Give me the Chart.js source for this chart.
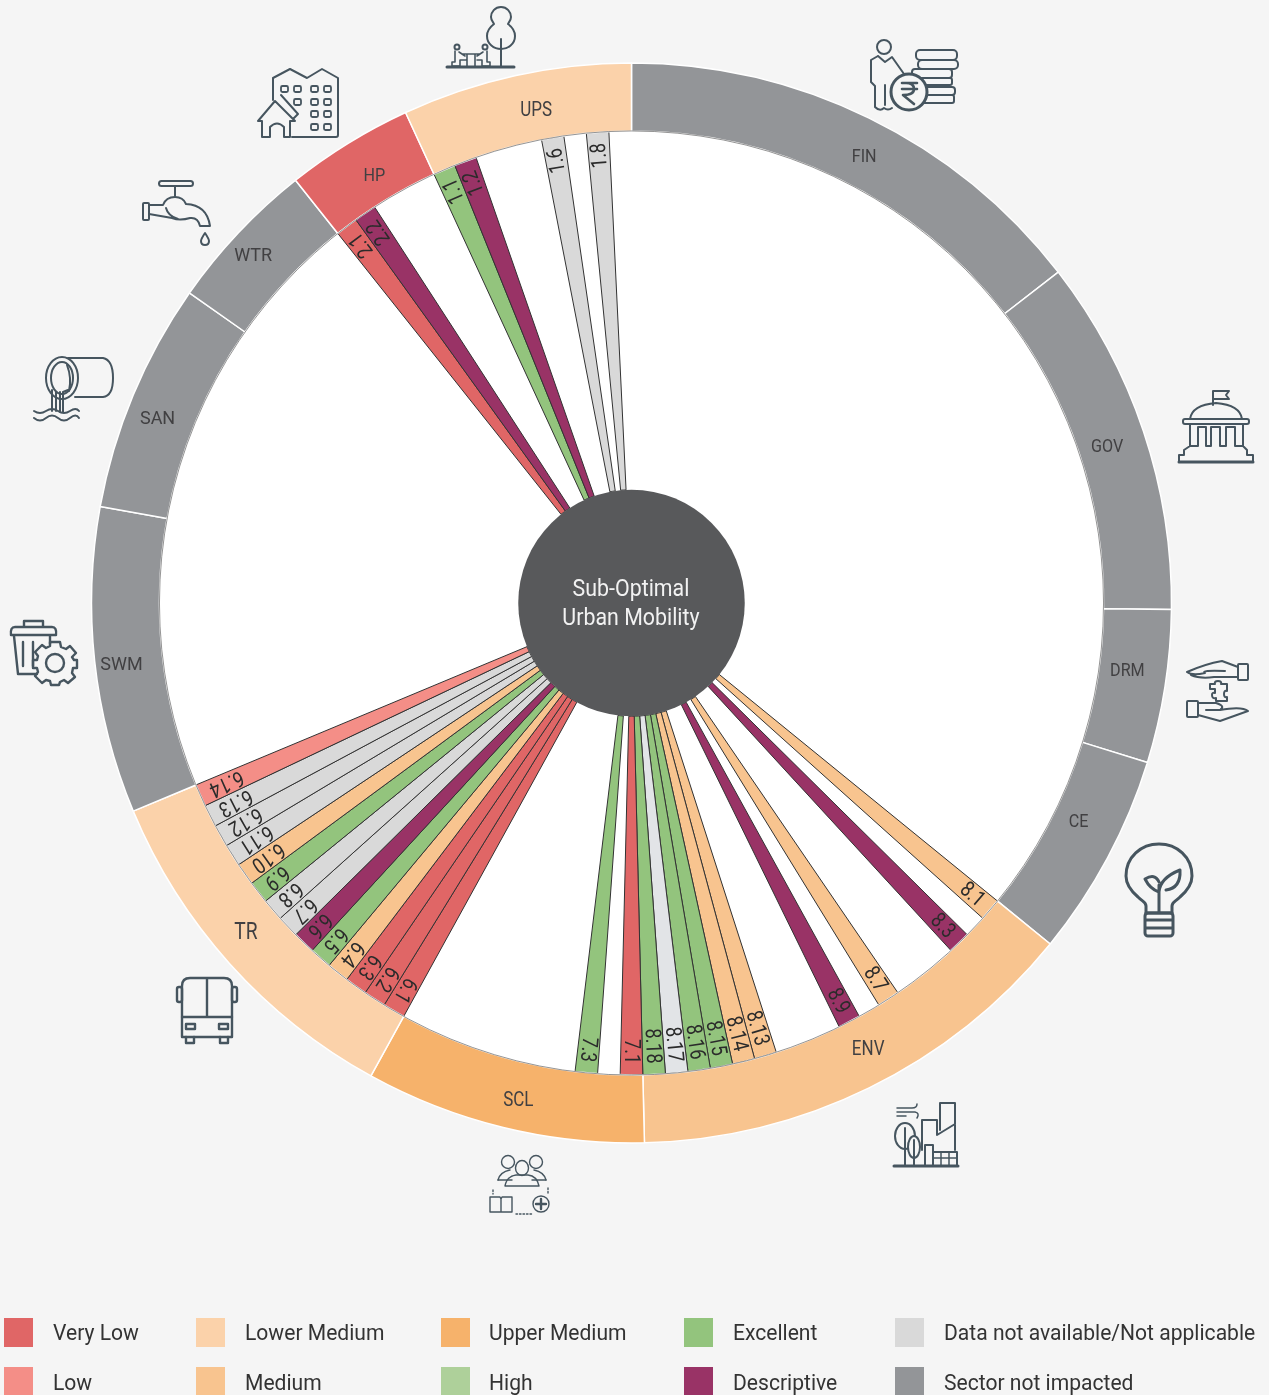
<!DOCTYPE html>
<html><head><meta charset="utf-8">
<style>
html,body{margin:0;padding:0;background:#f5f5f5;width:1269px;height:1395px;overflow:hidden;font-family:Roboto,sans-serif}
#wrap{position:relative;width:1269px;height:1395px}
canvas{position:absolute;left:0;top:0}
svg#icons{position:absolute;left:0;top:0;pointer-events:none}
.sw{position:absolute;width:29px;height:29px}
.lg{position:absolute;font:22px Roboto,sans-serif;color:#333;white-space:nowrap;line-height:28px;transform-origin:left center;transform:scaleX(.958)}
</style>
<script src="https://cdn.jsdelivr.net/npm/chart.js@4/dist/chart.umd.min.js"></script>
</head><body><div id="wrap"><canvas id="c" width="1269" height="1395"></canvas>
<svg id="icons" width="1269" height="1395" viewBox="0 0 1269 1395" fill="none" stroke="#46555f" stroke-width="2" stroke-linejoin="round" stroke-linecap="round">
<!-- UPS -->
<g><path d="M501 7C495 7 491 12 491 17C491 21 494 23 494 24C490 27 487 31 487 36C487 44 494 49 501 49C508 49 515 44 515 36C515 31 512 27 508 24C508 23 511 21 511 17C511 12 507 7 501 7Z"/><path d="M501 39V66"/><path d="M447 67H514" stroke-width="3"/><circle cx="457" cy="47" r="2.5"/><circle cx="485" cy="47" r="2.5"/><path d="M455 51V62H452V66H460V60L466 60M459 52L465 56M487 51V62H490V66H482V60L477 60M483 52L477 56M462 54H480M467 54V66M475 54V66" stroke-width="1.6"/></g>
<!-- FIN -->
<g><circle cx="884" cy="47" r="7"/><path d="M878 56L871 60V82L875 86V107Q880 112 884 108Q888 111 892 108M878 56L885 62L892 57L904 74M885 85V105"/><rect x="916" y="50" width="41" height="10" rx="4"/><rect x="918" y="60" width="40" height="9" rx="4"/><rect x="912" y="69" width="40" height="9" rx="3"/><rect x="918" y="78" width="34" height="7" rx="2"/><rect x="918" y="87" width="37" height="8" rx="3"/><rect x="918" y="95" width="36" height="8" rx="2"/><circle cx="909" cy="92" r="18" fill="#f5f5f5" stroke-width="3"/><path d="M902 83H917M902 89H917M906 83Q914 83 914 89Q914 95 903 95L914 104" stroke-width="2.6"/></g>
<!-- GOV -->
<g><path d="M1213 405V391H1229L1226 395L1229 399H1213"/><path d="M1190 419Q1192 405 1216 403Q1240 405 1242 419"/><rect x="1183" y="419" width="66" height="5" rx="2"/><path d="M1190 425V446L1184 450V455H1179V462H1253V455H1247V450L1243 446V425M1190 446H1198V427H1206V446H1211V427H1220V446H1226V427H1235V446H1243"/><path d="M1179 462H1253" stroke-width="3"/></g>
<!-- DRM -->
<g><rect x="1238" y="664" width="10" height="16" rx="1"/><path d="M1238 667L1222 661Q1205 664 1187 672Q1192 676 1205 673Q1200 670 1225 671M1238 677H1214Q1200 679 1191 675"/><rect x="1187" y="701" width="11" height="16" rx="1"/><path d="M1198 703H1216Q1226 706 1220 710H1206M1198 715L1220 721L1248 711Q1242 706 1220 710"/><path d="M1210 684H1215Q1214 681 1218 681Q1222 681 1221 684H1227V691Q1224 690 1224 694Q1224 698 1227 697V701H1216V698Q1212 699 1212 695Q1212 692 1215 693V689H1210Z" stroke-width="2"/></g>
<!-- CE -->
<g stroke-width="3"><path d="M1146 913V906C1146 902 1143 902 1138 897C1131 891 1126 884 1126 876C1126 857 1141 844 1159 844C1177 844 1192 857 1192 876C1192 884 1187 891 1180 897C1175 902 1172 902 1172 906V913"/><rect x="1145" y="913" width="28" height="23" rx="3"/><path d="M1146 920H1172M1146 928H1172M1146 913H1172"/><path d="M1159 912V885M1159 892Q1150 889 1145 879Q1155 873 1159 882M1159 892Q1160 878 1180 870Q1181 888 1166 890"/></g>
<!-- ENV -->
<g><path d="M894 1166H958" stroke-width="3"/><path d="M940 1130V1103H955V1150M922 1150V1120H937V1135M937 1135L955 1124M925 1166V1145H933V1152"/><ellipse cx="905" cy="1136" rx="10" ry="13"/><ellipse cx="914" cy="1147" rx="6" ry="11" fill="#f5f5f5"/><path d="M905 1166V1128M914 1166V1140"/><rect x="933" y="1152" width="24" height="14" /><path d="M933 1158H957M941 1152V1166M949 1152V1166M897 1108H912Q917 1108 917 1104M897 1112H915Q920 1113 917 1118M897 1116H906" stroke-width="1.5"/></g>
<!-- SCL -->
<g stroke-width="1.4"><circle cx="508" cy="1162" r="6.5"/><circle cx="536" cy="1162" r="6.5"/><ellipse cx="522" cy="1168" rx="6.5" ry="7.5"/><path d="M498 1180Q500 1172 510 1170M546 1180Q544 1172 534 1170M505 1186Q507 1176 516 1175H528Q537 1176 539 1186H505Z"/><path d="M498 1180H512M532 1180H546"/><path d="M490 1197H500L501 1199L502 1197H512V1212H490ZM501 1199V1212"/><circle cx="541" cy="1204" r="8"/><path d="M541 1199V1209M536 1204H546" stroke-width="2.4"/><path d="M493 1190V1194M548 1188V1195M516 1214H532" stroke-dasharray="1.5 2"/></g>
<!-- TR -->
<g stroke-width="2.4"><path d="M182 1037V986Q182 978 190 978H224Q232 978 232 986V1037Z"/><path d="M207 979V1017M182 1017H232"/><rect x="177" y="987" width="5" height="15" rx="2"/><rect x="232" y="987" width="5" height="15" rx="2"/><rect x="186" y="1024" width="9" height="5" /><rect x="219" y="1024" width="9" height="5"/><path d="M186 1037V1043H194V1037M220 1037V1043H228V1037"/></g>
<!-- SWM -->
<g stroke-width="2.4"><path d="M24 626V621H43V626"/><path d="M11 635Q10 627 15 627H52Q57 627 56 635Z"/><path d="M14 636L18 674H37M50 636V644"/><path d="M23 642V666M33 642V666"/><path d="M50 642H60L61 647L66 649L70 646L76 653L72 657L74 660H77V668L73 668L72 673L75 677L68 683L64 680L60 682L59 685H51L50 681L46 680L42 683L35 676L38 672L37 668H33V660H37L38 656L35 652L42 645L46 648L50 646Z"/><circle cx="55" cy="663" r="9"/></g>
<!-- SAN -->
<g stroke-width="2"><ellipse cx="62" cy="378" rx="16" ry="21"/><ellipse cx="62" cy="378" rx="11" ry="16"/><path d="M68 358H103Q113 360 113 378Q113 396 103 397H75M67 365Q72 378 69 391M52 390V411M56 392V411M60 392V412M68 390L63 392V412"/><path d="M34 411Q40 415 46 411T58 411T70 411T79 411M34 418Q40 423 46 418T58 418T70 418T79 418"/></g>
<!-- WTR -->
<g stroke-width="2"><rect x="159" y="181" width="34" height="5" rx="2.5"/><path d="M175 186V196"/><rect x="143" y="203" width="6" height="17" rx="1"/><path d="M149 205H163Q166 197 175 197Q183 197 186 204Q207 205 210 226H200Q198 217 190 218Q180 221 172 218L149 214M166 208Q168 216 178 219" /><path d="M205 233Q201 239 201 241Q201 245 205 245Q209 245 209 241Q209 239 205 233Z"/></g>
<!-- HP -->
<g><path d="M273 100V78L290 69L307 78L322 69L338 78V135Q338 137 336 137H292"/><path d="M275 101L258 121H262V137H270V127Q277 120 284 127V137H290V121H295L275 101ZM281 95L298 114L294 118"/><g stroke-width="1.8"><rect x="281" y="86" width="7" height="6" rx="1.5"/><rect x="294" y="86" width="7" height="6" rx="1.5"/><rect x="311" y="86" width="7" height="6" rx="1.5"/><rect x="324" y="86" width="7" height="6" rx="1.5"/><rect x="294" y="99" width="7" height="6" rx="1.5"/><rect x="311" y="99" width="7" height="6" rx="1.5"/><rect x="324" y="99" width="7" height="6" rx="1.5"/><rect x="311" y="111" width="7" height="6" rx="1.5"/><rect x="324" y="111" width="7" height="6" rx="1.5"/><rect x="311" y="124" width="7" height="6" rx="1.5"/><rect x="324" y="124" width="7" height="6" rx="1.5"/></g></g>
</svg>
</div>
<script>
// ---------- data ----------
const sectorNames   = ['FIN','GOV','DRM','CE','ENV','SCL','TR','SWM','SAN','WTR','HP','UPS'];
const sectorSizes   = [19,14,6,8,18,11,14,12,9,6,5,9];
const sectorRatings = ['NI','NI','NI','NI','M','UM','LM','NI','NI','NI','VL','LM'];
const sectorNumbers = [3,4,5,10,8,7,6,11,12,13,2,1];
// ratings per indicator, clockwise; '' = not rated (white)
const finRatings = ['','','','','','','','','','','','','','','','','','',''];
const govRatings = ['','','','','','','','','','','','','',''];
const drmRatings = ['','','','','',''];
const ceRatings  = ['','','','','','','',''];
const envRatings = ['M','','D','','','','M','','D','','','','M','M','E','E','NB','E'];
const sclRatings = ['VL','','E','','','','','','','',''];
const trRatings  = ['VL','VL','VL','M','E','D','NA','NA','E','M','NA','NA','NA','L'];
const swmRatings = ['','','','','','','','','','','',''];
const sanRatings = ['','','','','','','','',''];
const wtrRatings = ['','','','','',''];
const hpRatings  = ['VL','D','','',''];
const upsRatings = ['E','D','','','','NA','','NA',''];
const legendLabels = ['Very Low','Low','Lower Medium','Medium','Upper Medium','High','Excellent','Descriptive','Data not available/Not applicable','Sector not impacted'];
const legendKeys   = ['VL','L','LM','M','UM','H','E','D','NA','NI'];

// ---------- styles ----------
const ratingColors = {VL:'#e06666',L:'#f48e87',LM:'#fbd2aa',M:'#f8c48f',UM:'#f6b26b',H:'#aed09a',E:'#93c47d',D:'#993366',NA:'#d9d9d9',NB:'#e2e4e7',NI:'#939598','':'rgba(255,255,255,0)'};
// per-sector label tweak: [font px, x-squeeze, dx, dy]
const sectorLabelStyle = {FIN:[19,.85,10,9],GOV:[19,.85,-4,5],DRM:[19,.85,-4,-10],CE:[19,.85,1,-20],ENV:[20,.85,14,-7],SCL:[20,.85,7,6],TR:[24,.8,-9,-8],SWM:[18,1,-7,8],SAN:[18,1,-7,12],WTR:[18,1,-10,0],HP:[19,.85,8,4],UPS:[20,.85,13,2]};
const legendX = [[4,53],[196,245],[441,489],[684,733],[895,944]];
const legendY = [1318,1367];

// ---------- chart data ----------
const perSector = [finRatings,govRatings,drmRatings,ceRatings,envRatings,sclRatings,trRatings,swmRatings,sanRatings,wtrRatings,hpRatings,upsRatings];
const flatRatings = perSector.flat();
const flatLabels = perSector.flatMap((arr,i)=>arr.map((r,j)=>r?sectorNumbers[i]+'.'+(j+1):''));

const ringPlugin = {
  id:'ring',
  beforeDatasetsDraw(ch){
    const a = ch.getDatasetMeta(1).data[0], c = ch.ctx;
    c.save();c.fillStyle='#ffffff';c.beginPath();c.arc(a.x,a.y,a.outerRadius,0,Math.PI*2);c.fill();c.restore();
  },
  afterDatasetsDraw(ch){
    const c = ch.ctx, outer = ch.getDatasetMeta(0).data, inner = ch.getDatasetMeta(1).data;
    const a0 = inner[0];
    // thin seam between the two rings
    c.save();c.strokeStyle='rgba(60,60,60,.55)';c.lineWidth=1;c.beginPath();c.arc(a0.x,a0.y,a0.outerRadius,0,Math.PI*2);c.stroke();
    // indicator labels
    c.fillStyle='#2b2b2b';c.textAlign='right';c.textBaseline='middle';c.font='22px Roboto, sans-serif';
    inner.forEach((a,i)=>{
      if(!flatLabels[i])return;
      const m=(a.startAngle+a.endAngle)/2, r=a.outerRadius-11;
      c.save();c.translate(a.x+Math.cos(m)*r,a.y+Math.sin(m)*r);c.rotate(m);c.scale(.82,1);
      c.fillText(flatLabels[i],0,1);c.restore();
    });
    // sector labels
    c.fillStyle='#414042';c.textAlign='center';
    outer.forEach((a,i)=>{
      const st=sectorLabelStyle[sectorNames[i]], m=(a.startAngle+a.endAngle)/2, r=(a.outerRadius+a.innerRadius)/2;
      c.save();c.translate(a.x+Math.cos(m)*r+st[2],a.y+Math.sin(m)*r+st[3]);c.scale(st[1],1);
      c.font=st[0]+'px Roboto, sans-serif';c.fillText(sectorNames[i],0,0);c.restore();
    });
    // hub
    c.fillStyle='#58595b';c.beginPath();c.arc(a0.x,a0.y,a0.innerRadius,0,Math.PI*2);c.fill();
    c.fillStyle='#f2f2f2';c.font='24px Roboto, sans-serif';c.textAlign='center';
    [['Sub-Optimal',-13],['Urban Mobility',16]].forEach(([t,dy])=>{
      c.save();c.translate(a0.x-.5,a0.y+dy);c.scale(.89,1);c.fillText(t,0,0);c.restore();
    });
    c.restore();
  }
};

new Chart(document.getElementById('c'),{
  type:'doughnut',
  data:{labels:flatLabels,datasets:[
    {label:'Sectors',data:sectorSizes,labels:sectorNames,weight:68,backgroundColor:sectorRatings.map(k=>ratingColors[k]),borderColor:'#ffffff',borderWidth:1.5,borderAlign:'center'},
    {label:'Indicators',data:flatRatings.map(()=>1),weight:359,backgroundColor:flatRatings.map(k=>ratingColors[k]),borderColor:flatRatings.map(k=>k?'#333333':'rgba(0,0,0,0)'),borderWidth:flatRatings.map(k=>k?1:0)}
  ]},
  options:{responsive:false,animation:false,cutout:113,radius:540,rotation:0,
    layout:{padding:{left:92,top:63,right:98,bottom:252}},
    events:[],
    plugins:{legend:{display:false},tooltip:{enabled:false}}},
  plugins:[ringPlugin]
});

// ---------- legend ----------
const wrap=document.getElementById('wrap');
legendLabels.forEach((t,i)=>{
  const col=Math.floor(i/2),row=i%2;
  const s=document.createElement('div');s.className='sw';s.style.left=legendX[col][0]+'px';s.style.top=legendY[row]+'px';s.style.background=ratingColors[legendKeys[i]];wrap.appendChild(s);
  const l=document.createElement('div');l.className='lg';l.textContent=t;l.style.left=legendX[col][1]+'px';l.style.top=(legendY[row]+1+row)+'px';wrap.appendChild(l);
});
</script></body></html>
